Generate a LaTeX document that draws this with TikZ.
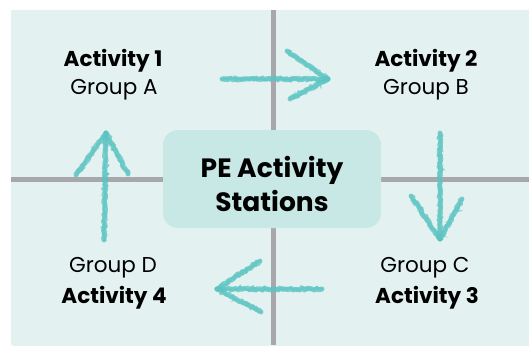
\documentclass[tikz,border=0pt]{standalone}
\usepackage{fontspec}
\setmainfont{Poppins}
\usetikzlibrary{decorations.pathmorphing}
\definecolor{bgc}{HTML}{E3F2F1}
\definecolor{boxc}{HTML}{C8E8E6}
\definecolor{linec}{HTML}{A8A8AC}
\definecolor{chalk}{HTML}{5BC4C2}
\tikzset{
  lbl/.style={font=\fontsize{21.5}{24}\selectfont, text=black, inner sep=0pt},
  blbl/.style={lbl, font=\fontsize{21.5}{24}\selectfont\bfseries},
  chalkline/.style={draw=chalk, line width=5pt, line cap=round, opacity=0.75,
    decorate, decoration={random steps, segment length=2pt, amplitude=0.9pt}},
  chalkthin/.style={draw=chalk, line width=3pt, line cap=round, opacity=0.6,
    decorate, decoration={random steps, segment length=1.5pt, amplitude=1.2pt}},
  divider/.style={draw=linec, line width=5pt},
}
\begin{document}
\begin{tikzpicture}[x=1pt,y=-1pt]
\useasboundingbox (0,0) rectangle (529,345);
% background
\fill[bgc] (11,10) -- (535,10) -- (535,350) -- (15,350) [rounded corners=5pt] -- (11,343) -- cycle;
\fill[bgc] (11,10) rectangle (529,345);
% dividers
\coordinate (vt) at (273.5,10);
\coordinate (vb) at (273.5,345);
\coordinate (hl) at (11,179);
\coordinate (hr) at (529,179);
\draw[divider] (vt) -- (vb);
\draw[divider] (hl) -- (hr);
% centre box
\node[fill=boxc, rounded corners=15pt, minimum width=218pt, minimum height=98pt, inner sep=0pt] (center) at (272,179) {};
\node[font=\fontsize{26.5}{34}\selectfont\bfseries, align=center, inner sep=0pt] (title) at (272,184) {PE Activity\\Stations};
% labels
\node[blbl] (a1) at (113,61) {Activity 1};
\node[lbl] (ga) at (114,90) {Group A};
\node[blbl] (a2) at (426,61) {Activity 2};
\node[lbl] (gb) at (426,90) {Group B};
\node[lbl] (gc) at (425,268) {Group C};
\node[blbl] (a3) at (427,298) {Activity 3};
\node[lbl] (gd) at (113,268) {Group D};
\node[blbl] (a4) at (114,298) {Activity 4};
% arrow coordinates
\coordinate (r0) at (222,79); \coordinate (r1) at (328,79);
\coordinate (r2) at (287,51); \coordinate (r3) at (290,99);
\coordinate (d0) at (440,133); \coordinate (d1) at (440,239);
\coordinate (d2) at (411,196); \coordinate (d3) at (462,199);
\coordinate (l0) at (322,289); \coordinate (l1) at (217,289);
\coordinate (l2) at (260,261); \coordinate (l3) at (261,312);
\coordinate (u0) at (104,240); \coordinate (u1) at (106,133);
\coordinate (u2) at (76,175); \coordinate (u3) at (128,174);
% chalk arrows
\foreach \s/\e in {r0/r1,r2/r1,r3/r1,d0/d1,d2/d1,d3/d1,l0/l1,l2/l1,l3/l1,u0/u1,u2/u1,u3/u1}{
  \draw[chalkline] (\s) -- (\e);
  \draw[chalkthin] (\s) -- (\e);
}
\end{tikzpicture}
\end{document}
